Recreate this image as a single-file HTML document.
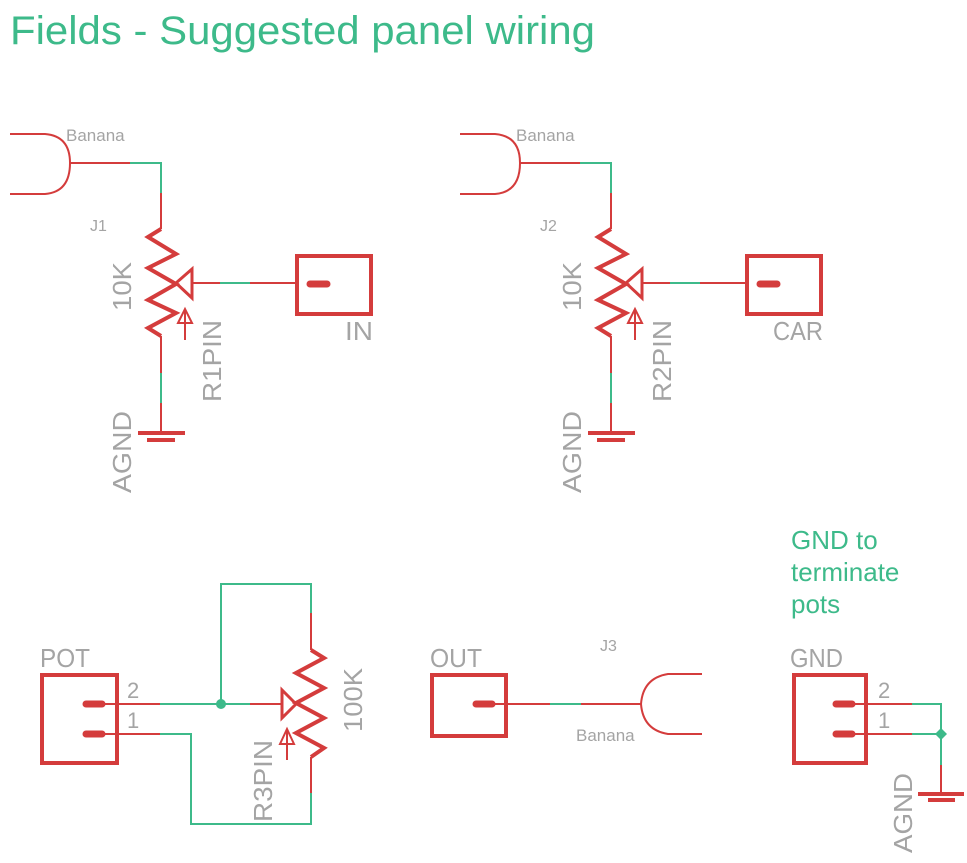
<!DOCTYPE html>
<html><head><meta charset="utf-8"><style>
html,body{margin:0;padding:0;background:#fff;}
svg{display:block}
.r{stroke:#d43c3c;fill:none}
.g{stroke:#3dba8a;fill:none}
.t{fill:#a4a4a4;font-family:"Liberation Sans",sans-serif}
</style></head><body>
<svg width="967" height="863" viewBox="0 0 967 863" xmlns="http://www.w3.org/2000/svg" stroke-width="2">
<text x="10" y="44" font-family="Liberation Sans, sans-serif" font-size="40" fill="#3dba8a" textLength="585" lengthAdjust="spacingAndGlyphs">Fields - Suggested panel wiring</text>
<g font-family="Liberation Sans, sans-serif" font-size="26" fill="#3dba8a">
<text x="791" y="549">GND to</text><text x="791" y="581">terminate</text><text x="791" y="613">pots</text>
</g>

<g id="b1">
<path class="r" d="M10 134 H45 Q70 136 70 163 Q70 192 45 194 H10"/>
<path class="r" d="M70 163 H130"/>
<path class="g" d="M130 163 H161 V193"/>
<path class="r" d="M161 193 V229"/>
<path class="r" stroke-width="4" d="M161 229 L148 237 L176 254 L148 268 L176 284 L148 300 L176 313 L148 328 L161 336"/>
<path class="r" d="M161 336 V373"/>
<path class="g" d="M161 373 V403"/>
<path class="r" d="M161 403 V433"/>
<path class="r" stroke-width="4" d="M138 433 H185 M147 440 H175"/>
<path class="r" stroke-width="3" d="M176 283 L192 269 V298 Z"/>
<path class="r" d="M192 283 H220"/>
<path class="g" d="M220 283 H250"/>
<path class="r" d="M250 283 H296"/>
<rect x="297" y="256" width="74" height="58" class="r" stroke-width="4"/>
<path class="r" stroke-width="7" stroke-linecap="round" d="M310 284 H327"/>
<path class="r" d="M185 340 V309 M178 323 L185 309 L192 323 Z"/>
<text class="t" x="66" y="141" font-size="17">Banana</text>
<text class="t" x="90" y="231" font-size="16">J1</text>
<text class="t" font-size="26" transform="translate(131,311) rotate(-90)" textLength="49" lengthAdjust="spacingAndGlyphs">10K</text>
<text class="t" font-size="26" transform="translate(221,402) rotate(-90)" textLength="82" lengthAdjust="spacingAndGlyphs">R1PIN</text>
<text class="t" font-size="26" transform="translate(131,493) rotate(-90)" textLength="82" lengthAdjust="spacingAndGlyphs">AGND</text>
<text class="t" x="345" y="340" font-size="26" textLength="28" lengthAdjust="spacingAndGlyphs">IN</text>
</g>
<g transform="translate(450,0)">
<path class="r" d="M10 134 H45 Q70 136 70 163 Q70 192 45 194 H10"/>
<path class="r" d="M70 163 H130"/>
<path class="g" d="M130 163 H161 V193"/>
<path class="r" d="M161 193 V229"/>
<path class="r" stroke-width="4" d="M161 229 L148 237 L176 254 L148 268 L176 284 L148 300 L176 313 L148 328 L161 336"/>
<path class="r" d="M161 336 V373"/>
<path class="g" d="M161 373 V403"/>
<path class="r" d="M161 403 V433"/>
<path class="r" stroke-width="4" d="M138 433 H185 M147 440 H175"/>
<path class="r" stroke-width="3" d="M176 283 L192 269 V298 Z"/>
<path class="r" d="M192 283 H220"/>
<path class="g" d="M220 283 H250"/>
<path class="r" d="M250 283 H296"/>
<rect x="297" y="256" width="74" height="58" class="r" stroke-width="4"/>
<path class="r" stroke-width="7" stroke-linecap="round" d="M310 284 H327"/>
<path class="r" d="M185 340 V309 M178 323 L185 309 L192 323 Z"/>
<text class="t" x="66" y="141" font-size="17">Banana</text>
<text class="t" x="90" y="231" font-size="16">J2</text>
<text class="t" font-size="26" transform="translate(131,311) rotate(-90)" textLength="49" lengthAdjust="spacingAndGlyphs">10K</text>
<text class="t" font-size="26" transform="translate(221,402) rotate(-90)" textLength="82" lengthAdjust="spacingAndGlyphs">R2PIN</text>
<text class="t" font-size="26" transform="translate(131,493) rotate(-90)" textLength="82" lengthAdjust="spacingAndGlyphs">AGND</text>
<text class="t" x="323" y="340" font-size="26" textLength="50" lengthAdjust="spacingAndGlyphs">CAR</text>
</g>

<rect x="42" y="675" width="75" height="88" class="r" stroke-width="4"/>
<path class="r" stroke-width="7" stroke-linecap="round" d="M86 704 H102 M86 734 H102"/>
<path class="r" d="M102 704 H160 M102 734 H160"/>
<path class="g" d="M160 704 H250 M221 704 V584 H311 V613 M160 734 H191 V824 H311 V793"/>
<path class="r" d="M250 704 H282 M311 613 V650 M311 757 V793"/>
<circle cx="221" cy="704" r="5" fill="#3dba8a"/>
<path class="r" stroke-width="4" d="M311 650 L324 658 L296 673 L324 688 L296 703 L324 718 L296 733 L324 748 L311 757"/>
<path class="r" stroke-width="3" d="M296 704 L282 690 V718 Z"/>
<path class="r" d="M287 760 V729 M280 744 L287 729 L294 744 Z"/>
<text class="t" x="40" y="667" font-size="26" textLength="50" lengthAdjust="spacingAndGlyphs">POT</text>
<text class="t" x="127" y="698" font-size="22">2</text>
<text class="t" x="127" y="728" font-size="22">1</text>
<text class="t" font-size="26" transform="translate(362,732) rotate(-90)" textLength="64" lengthAdjust="spacingAndGlyphs">100K</text>
<text class="t" font-size="26" transform="translate(272,822) rotate(-90)" textLength="82" lengthAdjust="spacingAndGlyphs">R3PIN</text>

<rect x="432" y="675" width="74" height="61" class="r" stroke-width="4"/>
<path class="r" stroke-width="7" stroke-linecap="round" d="M476 704 H492"/>
<path class="r" d="M492 704 H550 M581 704 H641"/>
<path class="g" d="M550 704 H581"/>
<path class="r" d="M702 674 H668 Q643 678 641 704 Q643 730 668 734 H702"/>
<text class="t" x="430" y="667" font-size="26" textLength="52" lengthAdjust="spacingAndGlyphs">OUT</text>
<text class="t" x="600" y="651" font-size="16">J3</text>
<text class="t" x="576" y="741" font-size="17">Banana</text>

<rect x="794" y="675" width="72" height="88" class="r" stroke-width="4"/>
<path class="r" stroke-width="7" stroke-linecap="round" d="M836 704 H852 M836 734 H852"/>
<path class="r" d="M852 704 H912 M852 734 H912 M941 765 V794"/>
<path class="g" d="M912 704 H941 V765 M912 734 H941"/>
<path d="M941 728 L947 734 L941 740 L935 734 Z" fill="#3dba8a"/>
<path class="r" stroke-width="4" d="M918 794 H964 M928 800 H955"/>
<text class="t" x="790" y="667" font-size="26" textLength="53" lengthAdjust="spacingAndGlyphs">GND</text>
<text class="t" x="878" y="698" font-size="22">2</text>
<text class="t" x="878" y="728" font-size="22">1</text>
<text class="t" font-size="26" transform="translate(912,853) rotate(-90)" textLength="80" lengthAdjust="spacingAndGlyphs">AGND</text>
</svg>
</body></html>
